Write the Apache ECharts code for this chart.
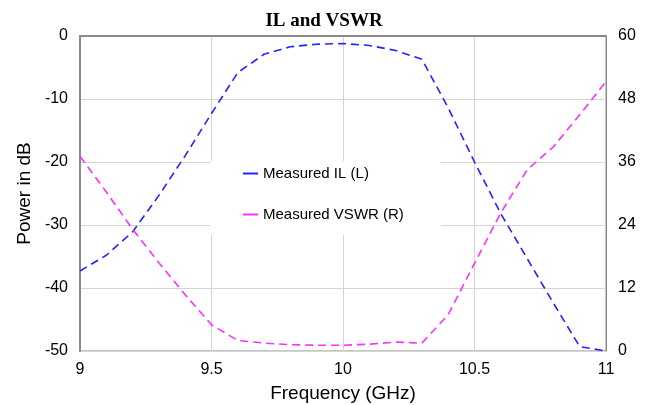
<!DOCTYPE html>
<html>
<head>
<meta charset="utf-8">
<script src="https://cdn.jsdelivr.net/npm/echarts@6/dist/echarts.min.js"></script>
<style>
  html, body { margin: 0; padding: 0; background: #fff; }
  #chart { width: 648px; height: 405px; }
</style>
</head>
<body>
<div id="chart"></div>
<script>
// Frequency points (GHz)
const freq = [9.0, 9.1, 9.2, 9.3, 9.4, 9.5, 9.6, 9.7, 9.8, 9.9, 10.0,
              10.1, 10.2, 10.3, 10.4, 10.5, 10.6, 10.7, 10.8, 10.9, 11.0];
// Measured insertion loss, dB (left axis)
const ilValues = [-37.3, -34.8, -31.1, -25.3, -19.0, -12.3, -5.8, -2.9, -1.7, -1.3, -1.2,
                  -1.5, -2.3, -3.7, -11.4, -20.0, -28.2, -35.3, -42.4, -49.3, -50.0];
// Measured VSWR (right axis)
const vswrValues = [37.1, 30.3, 23.2, 16.8, 10.7, 5.0, 2.0, 1.5, 1.2, 1.1, 1.1,
                    1.3, 1.7, 1.5, 6.9, 16.7, 26.3, 34.5, 38.9, 45.0, 51.3];

const pairs = (xs, ys) => xs.map((x, i) => [x, ys[i]]);

const chart = echarts.init(document.getElementById("chart"));

const labelFont = { fontFamily: "Liberation Sans", fontSize: 16, color: "#000" };
const nameFont = { fontFamily: "Liberation Sans", fontSize: 19, color: "#000" };

chart.setOption({
  animation: false,
  title: {
    text: "IL and VSWR",
    left: "center",
    top: 7,
    textStyle: { fontFamily: "Liberation Serif", fontSize: 19, fontWeight: "bold", color: "#000" },
  },
  grid: {
    left: 80,
    right: 42,
    top: 36,
    bottom: 54,
    outerBoundsMode: "none",
    show: true,
    borderColor: "#8a8a8a",
    borderWidth: 1,
  },
  legend: {
    orient: "vertical",
    left: 210,
    top: 161,
    padding: [5, 37, 13, 33],
    itemGap: 26,
    itemWidth: 15,
    itemHeight: 2,
    icon: "rect",
    backgroundColor: "#fff",
    textStyle: { fontFamily: "Liberation Sans", fontSize: 15, color: "#000" },
    data: ["Measured IL (L)", "Measured VSWR (R)"],
  },
  xAxis: {
    type: "value",
    min: 9,
    max: 11,
    interval: 0.5,
    name: "Frequency (GHz)",
    nameLocation: "middle",
    nameGap: 33,
    nameTextStyle: nameFont,
    axisLine: { lineStyle: { color: "#8a8a8a", width: 2 } },
    axisTick: { show: false },
    axisLabel: Object.assign({ margin: 11 }, labelFont),
    splitLine: { lineStyle: { color: "#d4d4d4" } },
  },
  yAxis: [
    {
      type: "value",
      min: -50,
      max: 0,
      interval: 10,
      name: "Power in dB",
      nameLocation: "middle",
      nameGap: 44,
      nameTextStyle: nameFont,
      axisLine: { show: true, lineStyle: { color: "#8a8a8a", width: 2 } },
      axisTick: { show: false },
      axisLabel: Object.assign({ margin: 12 }, labelFont),
      splitLine: { lineStyle: { color: "#d4d4d4" } },
    },
    {
      type: "value",
      min: 0,
      max: 60,
      interval: 12,
      position: "right",
      axisLine: { show: true, lineStyle: { color: "#8a8a8a", width: 1 } },
      axisTick: { show: false },
      axisLabel: Object.assign({ margin: 12 }, labelFont),
      splitLine: { show: false },
    },
  ],
  series: [
    {
      name: "Measured IL (L)",
      type: "line",
      yAxisIndex: 0,
      data: pairs(freq, ilValues),
      showSymbol: false,
      color: "#2323ff",
      lineStyle: { width: 1.6, type: [8, 5] },
    },
    {
      name: "Measured VSWR (R)",
      type: "line",
      yAxisIndex: 1,
      data: pairs(freq, vswrValues),
      showSymbol: false,
      color: "#ff30ff",
      lineStyle: { width: 1.6, type: [8, 5] },
    },
  ],
});
</script>
</body>
</html>
